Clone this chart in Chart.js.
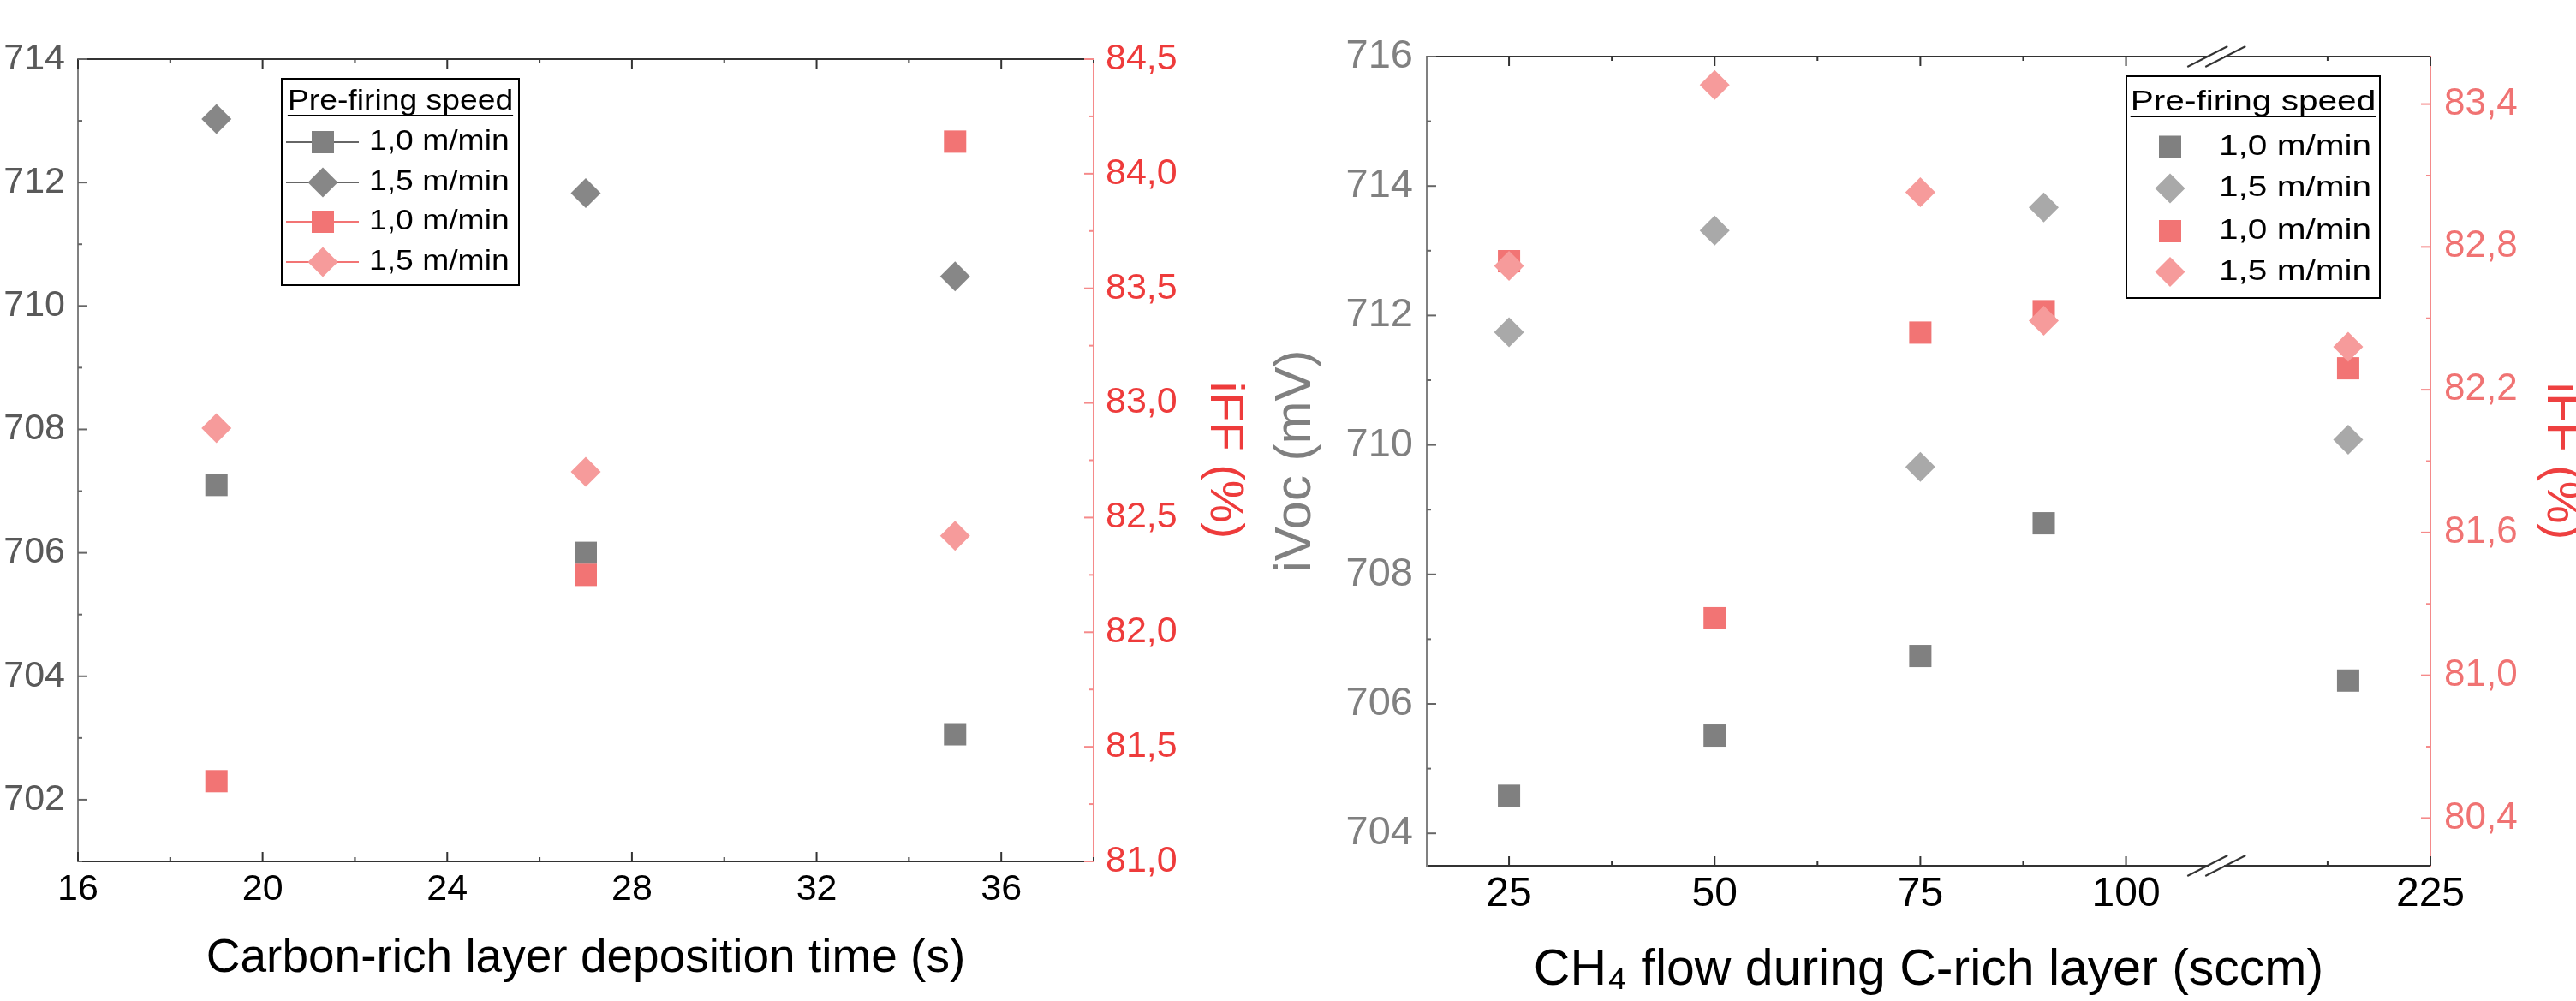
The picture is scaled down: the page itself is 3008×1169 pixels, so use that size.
<!DOCTYPE html>
<html>
<head>
<meta charset="utf-8">
<script src="https://cdn.jsdelivr.net/npm/chart.js@4.4.1/dist/chart.umd.min.js"></script>
<style>
  html, body { margin: 0; padding: 0; background: #fff; overflow: hidden; }
  canvas { position: absolute; top: 0; }
  #left { left: 0; }
  #right { left: 1480px; }
</style>
</head>
<body>
<canvas id="left" width="1480" height="1169"></canvas>
<canvas id="right" width="1528" height="1169"></canvas>
<script>
// left panel: carbon-rich layer deposition time
const timeS = [19, 27, 35];
const vocTime10 = [707.1, 706.0, 703.06];
const vocTime15 = [713.03, 711.83, 710.48];
const ffTime10 = [81.35, 82.25, 84.14];
const ffTime15 = [82.89, 82.70, 82.42];
const timeTicks = [16, 20, 24, 28, 32, 36];
const vocTimeTicks = [702, 704, 706, 708, 710, 712, 714];
const ffTimeTicks = [81.0, 81.5, 82.0, 82.5, 83.0, 83.5, 84.0, 84.5];

// right panel: CH4 flow, x axis broken between 100 and 225
const flow = [25, 50, 75, 90, 215];
const vocFlow10 = [704.58, 705.51, 706.74, 708.79, 706.36];
const vocFlow15 = [711.74, 713.31, 709.66, 713.67, 710.08];
const ffFlow10 = [82.74, 81.24, 82.44, 82.53, 82.29];
const ffFlow15 = [82.72, 83.48, 83.03, 82.49, 82.38];
const flowTicks = [25, 50, 75, 100, 225];
const flowMinor = [37.5, 62.5, 87.5, 212.5];
const vocFlowTicks = [704, 706, 708, 710, 712, 714, 716];
const ffFlowTicks = [80.4, 81.0, 81.6, 82.2, 82.8, 83.4];

const speeds = ['1,0 m/min', '1,5 m/min'];
const legendTitle = 'Pre-firing speed';

const FONT = '"Liberation Sans", Arial, sans-serif';
Chart.defaults.font.family = FONT;
Chart.defaults.color = '#000';

const GRAY = '#808080';
const GRAY_D = '#878787';
const GRAY_L = '#a9a9a9';
const RED_SQ = '#f27474';
const RED_DI = '#f69b9b';

// axis break: everything past BREAK_AT is pulled left by BREAK_SHIFT
const BREAK_AT = 111;
const BREAK_SHIFT = 88;
const toAxis = v => v > BREAK_AT ? v - BREAK_SHIFT : v;
const fromAxis = p => p > BREAK_AT ? p + BREAK_SHIFT : p;

function pts(xs, ys, map) {
    return xs.map((x, i) => ({x: map ? map(x) : x, y: ys[i]}));
}
function midpoints(majors, min, max) {
    const step = majors[1] - majors[0];
    let out = [];
    for (let v = majors[0] - step / 2; v <= max + 1e-9; v += step) {
        if (v >= min - 1e-9) out.push(v);
    }
    return out;
}
const comma = v => v.toFixed(1).replace('.', ',');
const fixTicks = list => (s => { s.ticks = list.map(v => ({value: v})); });

function drawStretched(ctx, text, x, y, sx) {
    ctx.save();
    ctx.translate(x, y);
    ctx.scale(sx, 1);
    ctx.fillText(text, 0, 0);
    ctx.restore();
}

// ticks pointing into the plot, plus the top frame line
const innerTicks = {
    id: 'innerTicks',
    afterDraw(chart, args, o) {
        const {ctx, chartArea: a} = chart;
        ctx.save();
        ctx.lineWidth = 2;
        ctx.strokeStyle = '#333';
        ctx.beginPath(); ctx.moveTo(a.left, a.top); ctx.lineTo(a.right, a.top); ctx.stroke();
        o.axes.forEach(ax => {
            const s = chart.scales[ax.id];
            ctx.strokeStyle = ax.color;
            [[ax.majors, 11], [ax.minors, 5]].forEach(([vals, len]) => {
                vals.forEach(v => {
                    const p = s.getPixelForValue(v);
                    ctx.beginPath();
                    if (ax.id === 'x') {
                        ctx.moveTo(p, a.bottom); ctx.lineTo(p, a.bottom - len);
                        ctx.moveTo(p, a.top); ctx.lineTo(p, a.top + len);
                    } else if (s.position === 'left') {
                        ctx.moveTo(a.left, p); ctx.lineTo(a.left + len, p);
                    } else {
                        ctx.moveTo(a.right, p); ctx.lineTo(a.right - len, p);
                    }
                    ctx.stroke();
                });
            });
        });
        ctx.restore();
    }
};

// boxed legend with underlined title, built from the datasets
const boxLegend = {
    id: 'boxLegend',
    afterDraw(chart, args, o) {
        const ctx = chart.ctx;
        ctx.save();
        ctx.strokeStyle = '#000';
        ctx.lineWidth = 2;
        ctx.strokeRect(o.x, o.y, o.w, o.h);
        ctx.fillStyle = '#000';
        ctx.font = o.size + 'px ' + FONT;
        ctx.textBaseline = 'middle';
        const tw = ctx.measureText(legendTitle).width * o.sx;
        const tx = o.x + o.w / 2 - tw / 2;
        drawStretched(ctx, legendTitle, tx, o.titleY, o.sx);
        ctx.beginPath(); ctx.moveTo(tx, o.underY); ctx.lineTo(tx + tw, o.underY); ctx.stroke();
        chart.data.datasets.forEach((ds, i) => {
            const y = o.rows[i];
            if (o.lines) {
                ctx.strokeStyle = ds.lineColor;
                ctx.lineWidth = 2;
                ctx.beginPath(); ctx.moveTo(o.lineFrom, y); ctx.lineTo(o.lineTo, y); ctx.stroke();
            }
            ctx.fillStyle = ds.backgroundColor;
            Chart.helpers.drawPoint(ctx, {pointStyle: ds.pointStyle, radius: ds.pointRadius, rotation: 0, borderWidth: 0}, o.markerX, y);
            ctx.fillStyle = '#000';
            drawStretched(ctx, ds.label, o.textX, y, o.sx);
        });
        ctx.restore();
    }
};

// double slash marks where the x axis is broken
const axisBreak = {
    id: 'axisBreak',
    afterDraw(chart, args, o) {
        if (!o.at) return;
        const {ctx, chartArea: a} = chart;
        const cx = chart.scales.x.getPixelForValue(o.at);
        ctx.save();
        [a.top, a.bottom].forEach(y => {
            ctx.fillStyle = '#fff';
            ctx.fillRect(cx - 9, y - 3, 18, 6);
            ctx.strokeStyle = '#333';
            ctx.lineWidth = 2;
            [-10.5, 10.5].forEach(dx => {
                ctx.beginPath();
                ctx.moveTo(cx + dx - 23.5, y + 12);
                ctx.lineTo(cx + dx + 23.5, y - 12);
                ctx.stroke();
            });
        });
        ctx.restore();
    }
};

function dataset(label, data, style, color, axis, order, lineColor) {
    return {
        label: label, data: data, yAxisID: axis, order: order,
        pointStyle: style, pointRadius: style === 'rect' ? 18.4 : 17.5,
        backgroundColor: color, borderWidth: 0, showLine: false,
        lineColor: lineColor || color
    };
}

const common = {
    responsive: false,
    animation: false,
    events: [],
    plugins: {legend: {display: false}, tooltip: {enabled: false}}
};

function tickFont(size) { return {size: size}; }

// ---- left chart ----
new Chart(document.getElementById('left'), {
    type: 'scatter',
    data: {
        datasets: [
            dataset(speeds[0], pts(timeS, vocTime10), 'rect', GRAY, 'y', 3, '#666'),
            dataset(speeds[1], pts(timeS, vocTime15), 'rectRot', GRAY_D, 'y', 2, '#666'),
            dataset(speeds[0], pts(timeS, ffTime10), 'rect', RED_SQ, 'y1', 1),
            dataset(speeds[1], pts(timeS, ffTime15), 'rectRot', RED_DI, 'y1', 0, RED_SQ)
        ]
    },
    options: Object.assign({}, common, {
        layout: {padding: {top: 69, left: 0, right: 0, bottom: 0}},
        scales: {
            x: {
                type: 'linear', min: 16, max: 38,
                afterBuildTicks: fixTicks(timeTicks),
                afterFit: s => { s.height = 163; },
                grid: {display: false, drawTicks: false},
                border: {color: '#333', width: 2},
                ticks: {padding: 7, font: tickFont(43), color: '#000', maxRotation: 0, autoSkip: false},
                title: {display: true, text: 'Carbon-rich layer deposition time (s)', font: {size: 55}, color: '#000', padding: {top: 0, bottom: 16}}
            },
            y: {
                position: 'left', min: 701, max: 714,
                afterBuildTicks: fixTicks(vocTimeTicks),
                afterFit: s => { s.width = 91; },
                grid: {display: false, drawTicks: false},
                border: {color: GRAY, width: 2},
                ticks: {padding: 15, font: tickFont(43), color: '#595959'}
            },
            y1: {
                position: 'right', min: 81.0, max: 84.5,
                afterBuildTicks: fixTicks(ffTimeTicks),
                afterFit: s => { s.width = 203; },
                grid: {display: false, drawTicks: false},
                border: {color: '#f58a8a', width: 2},
                ticks: {padding: 14, font: tickFont(43), color: '#ee3b3b', callback: v => comma(v)},
                title: {display: true, text: 'iFF (%)', font: {size: 56}, color: '#ee3b3b', padding: {top: 17}}
            }
        },
        plugins: Object.assign({}, common.plugins, {
            innerTicks: {axes: [
                {id: 'x', color: '#333', majors: timeTicks, minors: midpoints(timeTicks, 16, 38)},
                {id: 'y', color: '#666', majors: vocTimeTicks, minors: midpoints(vocTimeTicks, 701, 714)},
                {id: 'y1', color: '#f58a8a', majors: ffTimeTicks, minors: midpoints(ffTimeTicks, 81, 84.5)}
            ]},
            boxLegend: {x: 329, y: 92, w: 277, h: 241, size: 33, sx: 1.13, titleY: 119, underY: 135,
                rows: [166, 213, 259, 306], lines: true, lineFrom: 334, lineTo: 419, markerX: 377, textX: 431}
        })
    }),
    plugins: [innerTicks, boxLegend]
});

// ---- right chart ----
new Chart(document.getElementById('right'), {
    type: 'scatter',
    data: {
        datasets: [
            dataset(speeds[0], pts(flow, vocFlow10, toAxis), 'rect', GRAY, 'y', 3),
            dataset(speeds[1], pts(flow, vocFlow15, toAxis), 'rectRot', GRAY_L, 'y', 2),
            dataset(speeds[0], pts(flow, ffFlow10, toAxis), 'rect', RED_SQ, 'y1', 1),
            dataset(speeds[1], pts(flow, ffFlow15, toAxis), 'rectRot', RED_DI, 'y1', 0)
        ]
    },
    options: Object.assign({}, common, {
        layout: {padding: {top: 66, left: 0, right: 0, bottom: 0}},
        scales: {
            x: {
                type: 'linear', min: 15, max: toAxis(225),
                afterBuildTicks: fixTicks(flowTicks.map(toAxis)),
                afterFit: s => { s.height = 158; },
                grid: {display: false, drawTicks: false},
                border: {color: '#333', width: 2},
                ticks: {padding: 5, font: tickFont(48), color: '#000', maxRotation: 0, autoSkip: false,
                    callback: v => String(fromAxis(v))},
                title: {display: true, text: 'CH\u2084 flow during C-rich layer (sccm)', font: {size: 59}, color: '#000', padding: {top: 0, bottom: 0}}
            },
            y: {
                position: 'left', min: 703.5, max: 716,
                afterBuildTicks: fixTicks(vocFlowTicks),
                afterFit: s => { s.width = 186; },
                grid: {display: false, drawTicks: false},
                border: {color: GRAY, width: 2},
                ticks: {padding: 16, font: tickFont(47), color: '#808080'},
                title: {display: true, text: 'iVoc (mV)', font: {size: 60}, color: '#808080', padding: {top: -3}}
            },
            y1: {
                position: 'right', min: 80.2, max: 83.6,
                afterBuildTicks: fixTicks(ffFlowTicks),
                afterFit: s => { s.width = 170; },
                grid: {display: false, drawTicks: false},
                border: {color: '#f58a8a', width: 2},
                ticks: {padding: 16, font: tickFont(44), color: '#f07373', callback: v => comma(v)},
                title: {display: true, text: 'iFF (%)', font: {size: 56}, color: '#ee4040', padding: {top: -16}}
            }
        },
        plugins: Object.assign({}, common.plugins, {
            innerTicks: {axes: [
                {id: 'x', color: '#333', majors: flowTicks.map(toAxis), minors: flowMinor.map(toAxis)},
                {id: 'y', color: '#666', majors: vocFlowTicks, minors: midpoints(vocFlowTicks, 703.5, 716)},
                {id: 'y1', color: '#f58a8a', majors: ffFlowTicks, minors: midpoints(ffFlowTicks, 80.2, 83.6)}
            ]},
            boxLegend: {x: 1003, y: 89, w: 296, h: 259, size: 33, sx: 1.23, titleY: 120, underY: 136,
                rows: [171.5, 220, 270, 317.6], lines: false, markerX: 1054, textX: 1111},
            axisBreak: {at: BREAK_AT}
        })
    }),
    plugins: [innerTicks, boxLegend, axisBreak]
});
</script>
</body>
</html>
